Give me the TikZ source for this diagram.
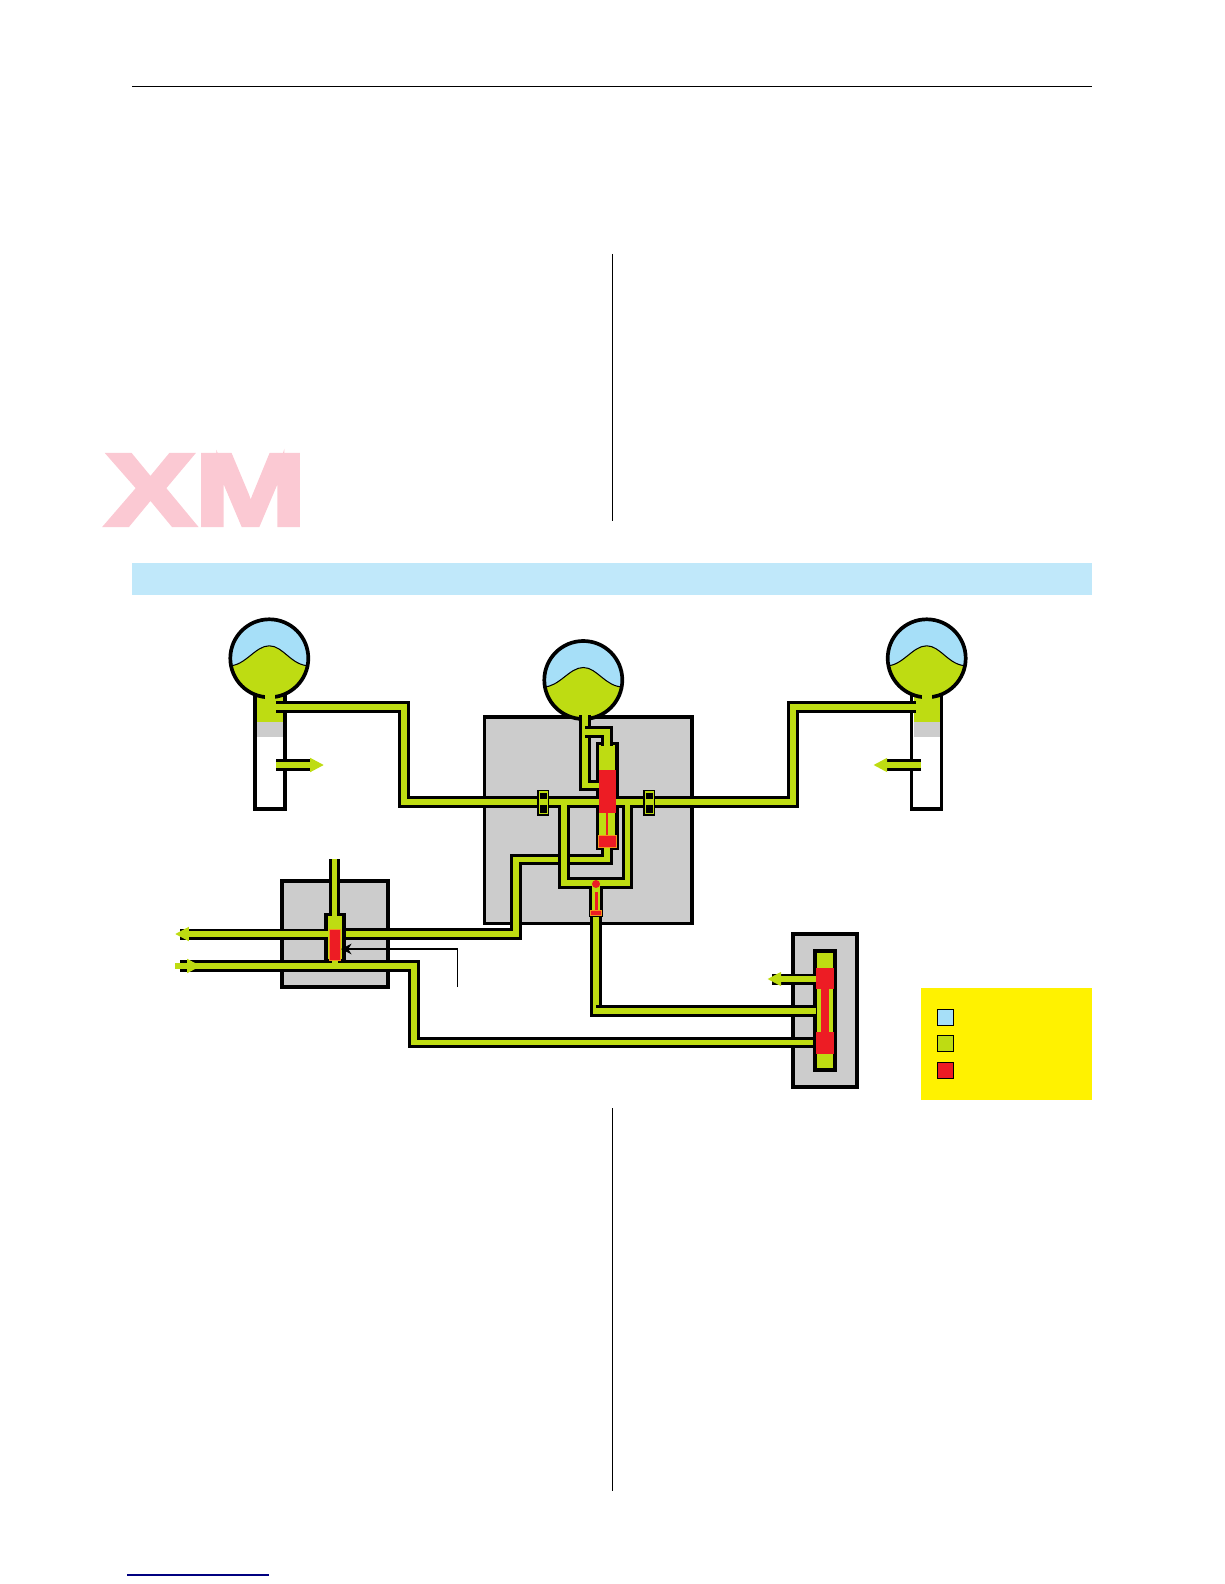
\documentclass[tikz,border=0pt]{standalone}
\usepackage{fontspec}
\usepackage{tikz}
\usetikzlibrary{arrows.meta}
\newfontfamily\brandfont[FakeBold=4]{Liberation Sans Bold}
\definecolor{oilgreen}{HTML}{BEDC12}
\definecolor{airblue}{HTML}{A6DFF8}
\definecolor{bandblue}{HTML}{C0E8FA}
\definecolor{oilred}{HTML}{ED1C24}
\definecolor{rimorange}{HTML}{F7941D}
\definecolor{bodygrey}{HTML}{CCCCCC}
\definecolor{legendyellow}{HTML}{FFF200}
\definecolor{brandpink}{HTML}{FBC9D3}
\tikzset{
  wall/.style={line width=2.1pt,draw=black,miter limit=10},
  pipeblack/.style={line width=6.8pt,draw=black},
  pipegreen/.style={line width=3.2pt,draw=oilgreen},
  pipetip/.style={pipegreen,-{Triangle[length=7.9pt,width=7.6pt]}},
  redpart/.style={fill=oilred,draw=rimorange,line width=0.4pt},
  swatch/.style={draw=black,line width=0.6pt},
  rule/.style={line width=0.45pt,draw=black}
}
\newcommand{\pipe}[1]{\draw[pipeblack] #1; \draw[pipegreen] #1;}
\newcommand{\reservoir}[3]{
  \begin{scope}[shift={(#1,#2)}]
    \fill[oilgreen] (0,0) circle (39);
    \begin{scope}
      \clip (0,0) circle (39);
      \fill[airblue] (-40,#3) .. controls (-24,#3) and (-14,-12.5) .. (0,-12.5)
        .. controls (14,-12.5) and (22,#3) .. (40,#3) -- (40,-40) -- (-40,-40) -- cycle;
      \draw[line width=0.6pt] (-40,#3) .. controls (-24,#3) and (-14,-12.5) .. (0,-12.5)
        .. controls (14,-12.5) and (22,#3) .. (40,#3);
    \end{scope}
    \draw[wall] (0,0) circle (39);
  \end{scope}
}
\newcommand{\chamber}[1]{
  \begin{scope}[shift={(#1,0)}]
    \fill[white] (-15,737) rectangle (15,809);
    \fill[bodygrey] (-13,722) rectangle (13,737);
    \fill[oilgreen] (-13,690) rectangle (13,722);
    \draw[wall] (-5,695.5) -- (-15,695.5) -- (-15,809) -- (15,809) -- (15,695.5) -- (5,695.5);
  \end{scope}
}
\newcommand{\shutoff}[1]{
  \fill[black] (#1-6,789.5) rectangle (#1+6,815.5);
  \fill[oilgreen] (#1-4.5,791) rectangle (#1+4.5,814);
  \fill[black] (#1-3.5,793) rectangle (#1+3.5,799);
  \fill[black] (#1-3.5,805) rectangle (#1+3.5,812.5);
}
\begin{document}
\begin{tikzpicture}[x=0.02cm,y=-0.02cm]
  \useasboundingbox (0,0) rectangle (1224,1584);
  % Page furniture
  \draw[rule] (132,86) -- (1092,86);
  \draw[rule] (612,254) -- (612,521);
  \draw[rule] (612,1108) -- (612,1491);
  \fill[bandblue] (132,562.5) rectangle (1092,595);
  \node[text=brandpink,inner sep=0pt,xscale=1.31,anchor=center] (brand) at (206,490)
    {\fontsize{58}{58}\brandfont XM};
  \draw[line width=0.7pt,draw=blue!50!black] (127,1575) -- (269,1575);
  % Grey bodies
  \draw[wall,fill=bodygrey] (484.5,717) rectangle (692,923.5);
  \draw[wall,fill=bodygrey] (281.7,881) rectangle (387.7,986.7);
  \draw[wall,fill=bodygrey] (792.7,934) rectangle (857.3,1087);
  % Spheres with their chambers
  \chamber{269.7}
  \chamber{926.5}
  \reservoir{269.3}{658.3}{7.5}
  \reservoir{926.7}{658.3}{7.5}
  \reservoir{583.3}{680}{7}
  \fill[oilgreen] (265,690) rectangle (274.5,700);
  \fill[oilgreen] (922,690) rectangle (931.5,700);
  % Centre cylinder
  \draw[wall,fill=oilgreen] (597.5,743.5) rectangle (617.3,848.3);
  % Small valve under the U
  \draw[wall,line width=1.5pt,fill=oilgreen] (590.5,885) -- (590.5,916) -- (601.5,916) -- (601.5,885);
  % Feed from the centre sphere
  \pipe{(585,715) -- (585,785.5) -- (598.5,785.5)}
  \pipe{(585,732) -- (607,732) -- (607,746)}
  % Return to the left body, goes under the U
  \pipe{(342,934) -- (516,934) -- (516,859.5) -- (607,859.5) -- (607,847)}
  % Left and right feeds with the U
  \draw[pipeblack] (276,707) -- (404.3,707) -- (404.3,802) -- (598.5,802);
  \draw[pipeblack] (916,707) -- (793,707) -- (793,802) -- (615.5,802);
  \draw[pipeblack] (564,802) -- (564,883) -- (627.5,883) -- (627.5,802);
  \draw[pipegreen] (276,707) -- (404.3,707) -- (404.3,802) -- (598.5,802);
  \draw[pipegreen] (916,707) -- (793,707) -- (793,802) -- (615.5,802);
  \draw[pipegreen] (564,802) -- (564,883) -- (627.5,883) -- (627.5,802);
  \shutoff{543}
  \shutoff{649}
  % Centre cylinder parts
  \fill[oilred] (598.6,770) rectangle (616,812.7);
  \fill[oilred] (606,812) rectangle (608.4,836);
  \draw[redpart] (598.6,835) rectangle (616,847.3);
  % Small valve parts
  \fill[oilgreen] (592,880) rectangle (600,912);
  \pipe{(596,916.5) -- (596,1011) -- (816,1011)}
  \fill[oilred] (596,884) circle (4);
  \fill[oilred] (594.7,891.7) rectangle (597.7,911);
  \draw[redpart] (590.8,910) rectangle (601.2,915.3);
  % Left body
  \draw[wall,fill=oilgreen] (326,914.5) rectangle (344,961);
  \pipe{(334.5,859) -- (334.5,916)}
  \fill[black] (180,928.5) rectangle (328,939.5);
  \draw[pipetip] (328,934) -- (175,934);
  \draw[pipeblack] (180,966) -- (414,966) -- (414,1042.5) -- (816,1042.5);
  \draw[pipegreen] (175,966) -- (414,966) -- (414,1042.5) -- (816,1042.5);
  \draw[pipetip] (175,966) -- (201,966);
  \fill[oilgreen] (332,958) rectangle (338,964);
  \draw[redpart] (329.8,929) rectangle (340.5,960.5);
  % Right body
  \draw[wall,fill=oilgreen] (815,950.7) rectangle (835.3,1070);
  \fill[black] (772,973.5) rectangle (816,984.5);
  \draw[pipetip] (816,979) -- (767.3,979);
  \pipe{(596,1011) -- (816,1011)}
  \fill[oilred] (816,968.3) rectangle (834,989);
  \fill[oilred] (816,1031.7) rectangle (834,1054);
  \fill[oilred] (821,988) rectangle (829,1032);
  % Outlet arrows at the chambers
  \draw[pipeblack] (276,765) -- (310,765);
  \draw[pipetip] (276,765) -- (324,765);
  \draw[pipeblack] (921,765) -- (887,765);
  \draw[pipetip] (921,765) -- (873.3,765);
  % Leader
  \coordinate (leaderstart) at (457.7,987);
  \coordinate (leaderend) at (341,949);
  \draw[line width=0.6pt,-{Stealth[length=6pt,width=6pt]}] (leaderstart) |- (leaderend);
  % Legend
  \fill[legendyellow] (921,987.7) rectangle (1092,1100);
  \draw[swatch,fill=airblue] (937.5,1009.3) rectangle (953.7,1025.5);
  \draw[swatch,fill=oilgreen] (937.5,1035.5) rectangle (953.7,1051.7);
  \draw[swatch,fill=oilred] (937.5,1062.5) rectangle (953.7,1078.7);
\end{tikzpicture}
\end{document}
